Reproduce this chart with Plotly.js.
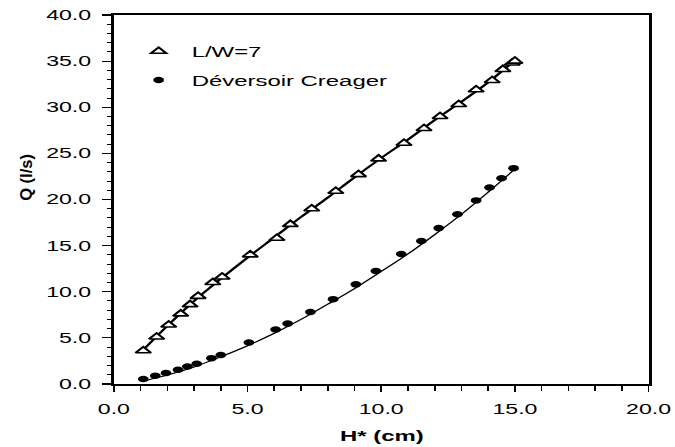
<!DOCTYPE html>
<html>
<head>
<meta charset="utf-8">
<script src="https://cdn.plot.ly/plotly-3.0.1.min.js"></script>
<style>
  html, body { margin: 0; padding: 0; background: #fff; overflow: hidden; }
  #wrap { width: 675px; height: 447px; overflow: hidden; }
  #chart { width: 409px; height: 447px; transform-origin: 0 0; }
</style>
</head>
<body>
<div id="wrap"><div id="chart"></div></div>
<script>
// ---- data ----
const H_tri = [1.1, 1.6, 2.05, 2.5, 2.85, 3.15, 3.7, 4.05, 5.1, 6.1, 6.6, 7.4, 8.3, 9.15, 9.9, 10.85, 11.6, 12.2, 12.9, 13.55, 14.15, 14.55, 14.9, 15.0];
const Q_tri = [3.6, 5.1, 6.4, 7.6, 8.6, 9.5, 11.0, 11.6, 14.0, 15.8, 17.3, 19.0, 20.9, 22.7, 24.4, 26.1, 27.7, 29.0, 30.3, 31.9, 32.9, 34.1, 34.8, 35.0];

const H_cre = [1.1, 1.55, 1.95, 2.4, 2.75, 3.1, 3.65, 4.0, 5.05, 6.05, 6.5, 7.35, 8.2, 9.05, 9.8, 10.75, 11.5, 12.15, 12.85, 13.55, 14.05, 14.5, 14.95];
const Q_cre = [0.55, 0.9, 1.2, 1.55, 1.9, 2.2, 2.8, 3.15, 4.5, 5.9, 6.55, 7.8, 9.2, 10.8, 12.25, 14.1, 15.5, 16.9, 18.4, 19.9, 21.3, 22.3, 23.4];

// fitted curves
const H_fit = [1.1, 2, 3, 4, 5, 6, 7, 8, 9, 10, 11, 12, 13, 14, 15];
const Q_fit_tri = [3.7, 6.3, 9.0, 11.4, 13.7, 15.9, 18.1, 20.2, 22.4, 24.5, 26.5, 28.6, 30.6, 32.7, 35.1];
const Q_fit_cre = [0.33, 0.97, 1.85, 2.95, 4.15, 5.5, 7.0, 8.65, 10.35, 12.2, 14.1, 16.2, 18.4, 20.8, 23.3];

const names = ["L/W=7", "Déversoir Creager"];
const xTitle = "H* (cm)";
const yTitle = "Q (l/s)";

// ---- horizontal stretch of the reference ----
const SX = 675 / 409;
document.getElementById('chart').style.transform = 'scaleX(' + SX + ')';

const FONT = '"Liberation Sans", Arial, sans-serif';

const traces = [
  { x: H_fit, y: Q_fit_tri, mode: 'lines', line: { color: '#000', width: 1.8, shape: 'spline' },
    showlegend: false, hoverinfo: 'skip' },
  { x: H_fit, y: Q_fit_cre, mode: 'lines', line: { color: '#000', width: 1.1, shape: 'spline' },
    showlegend: false, hoverinfo: 'skip' },
  { x: H_tri, y: Q_tri, mode: 'markers', name: names[0], legendgroup: 'a',
    marker: { symbol: 'triangle-up', size: 8, color: '#fff', line: { color: '#000', width: 1.6 } } },
  { x: H_cre, y: Q_cre, mode: 'markers', name: names[1], legendgroup: 'b',
    marker: { symbol: 'circle', size: 6.5, color: '#000', line: { width: 0 } } }
];

const layout = {
  width: 409, height: 447,
  margin: { l: 69, r: 16, t: 15, b: 63 },
  paper_bgcolor: '#fff', plot_bgcolor: '#fff',
  font: { family: FONT, color: '#000', size: 14 },
  showlegend: true,
  legend: {
    x: 0.022, y: 0.945, xanchor: 'left', yanchor: 'top',
    bgcolor: 'rgba(0,0,0,0)', borderwidth: 0,
    font: { family: FONT, size: 14.5, color: '#000' },
    traceorder: 'grouped', tracegroupgap: 7
  },
  xaxis: {
    range: [0, 20], tick0: 0, dtick: 5, tickformat: '.1f',
    ticks: 'outside', ticklen: 6, tickwidth: 1, tickcolor: '#000',
    minor: { dtick: 1, ticks: 'outside', ticklen: 5, tickwidth: 1, tickcolor: '#000', showgrid: false },
    showline: true, linewidth: 2, linecolor: '#000', mirror: true,
    showgrid: false, zeroline: false, ticklabelstandoff: 5,
    tickfont: { family: FONT, size: 14, color: '#000' }
  },
  yaxis: {
    range: [0, 40], tick0: 0, dtick: 5, tickformat: '.1f',
    ticks: 'outside', ticklen: 5, tickwidth: 1.2, tickcolor: '#000',
    minor: { dtick: 1, ticks: 'outside', ticklen: 2, tickwidth: 1, tickcolor: '#000', showgrid: false },
    showline: true, linewidth: 2, linecolor: '#000', mirror: true,
    showgrid: false, zeroline: false, ticklabelstandoff: 4,
    tickfont: { family: FONT, size: 14, color: '#000' }
  },
  yaxis2: {
    overlaying: 'y', side: 'left', range: [0, 40], tick0: 0, dtick: 5,
    ticks: 'inside', ticklen: 4, tickwidth: 1.2, tickcolor: '#000',
    minor: { dtick: 1, ticks: 'inside', ticklen: 4, tickwidth: 1, tickcolor: '#000', showgrid: false },
    showticklabels: false, showline: false, showgrid: false, zeroline: false
  },
  annotations: [
    { text: '<b>' + xTitle + '</b>', xref: 'paper', yref: 'paper', x: 0.5015, y: -0.141,
      xanchor: 'center', yanchor: 'middle', showarrow: false,
      font: { family: FONT, size: 14.5, color: '#000' } },
    { text: '<b>' + yTitle + '</b>', xref: 'paper', yref: 'paper', x: -0.164, y: 0.561,
      xanchor: 'center', yanchor: 'middle', showarrow: false, textangle: -90,
      font: { family: FONT, size: 16.5, color: '#000' } }
  ]
};

Plotly.newPlot('chart', traces, layout, { displayModeBar: false, staticPlot: true }).then(function () {
  // the rotated y title is not stretched in the reference: undo the stretch for it only
  const anns = document.querySelectorAll('#chart .annotation');
  if (anns.length > 1) {
    const t = anns[1].querySelector('text.annotation-text');
    if (t) {
      t.style.transformBox = 'fill-box';
      t.style.transformOrigin = 'center';
      t.style.transform = 'scaleY(' + (1 / SX) + ')';
    }
  }
});
</script>
</body>
</html>
